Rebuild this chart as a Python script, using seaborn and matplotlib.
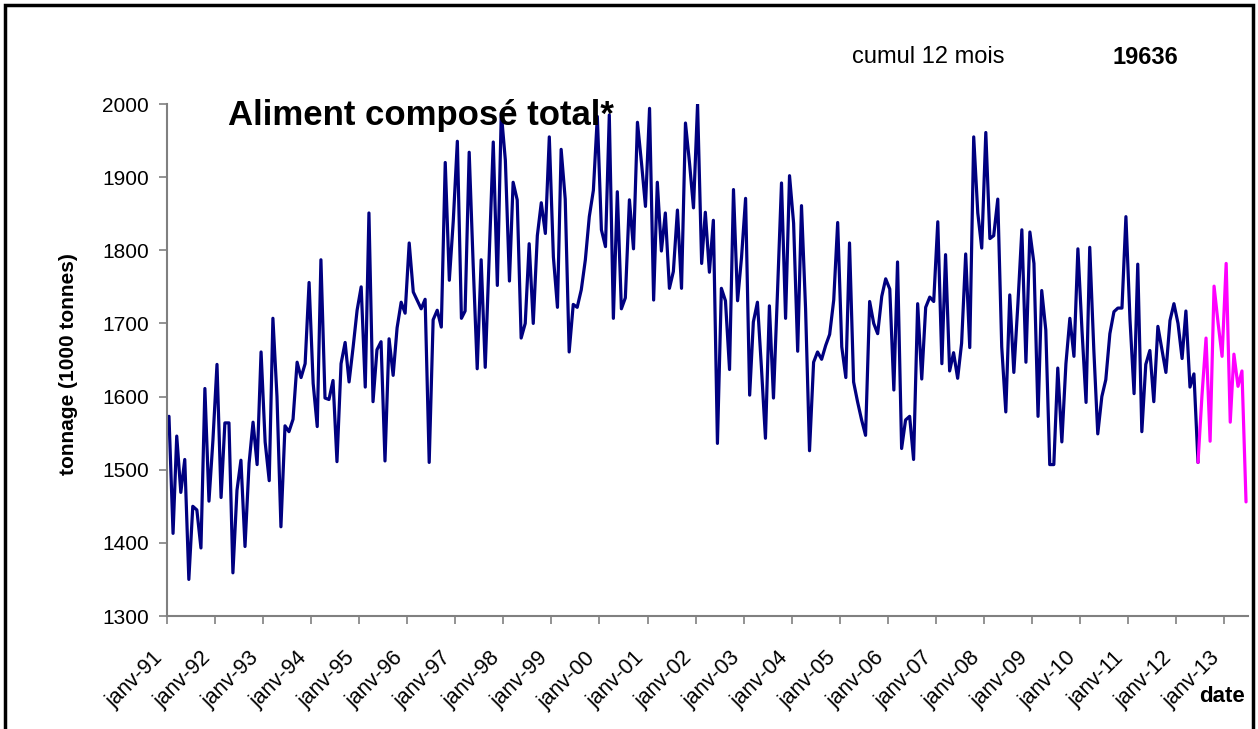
import numpy as np
import pandas as pd
import matplotlib
matplotlib.use("Agg")
import matplotlib.pyplot as plt
import matplotlib.transforms as mtransforms
from matplotlib.patches import Rectangle
import seaborn as sns

# -------------------------
# Data (monthly tonnage, 1000 t), janv-91 .. juin-13
# -------------------------
start_month = "1991-01-01"
tonnage = [
    1573, 1413, 1546, 1469, 1514, 1350, 1450, 1445, 1393, 1611, 1457, 1540,
    1644, 1462, 1564, 1564, 1359, 1472, 1513, 1395, 1509, 1565, 1507, 1661,
    1538, 1485, 1707, 1600, 1422, 1560, 1552, 1569, 1647, 1626, 1645, 1756,
    1618, 1559, 1787, 1598, 1596, 1622, 1511, 1645, 1674, 1620, 1668, 1718,
    1750, 1613, 1851, 1593, 1664, 1675, 1512, 1679, 1629, 1694, 1729, 1714,
    1810, 1743, 1732, 1720, 1733, 1510, 1705, 1718, 1695, 1920, 1759, 1840,
    1949, 1707, 1717, 1934, 1782, 1638, 1787, 1640, 1796, 1948, 1752, 1988,
    1923, 1758, 1893, 1869, 1680, 1700, 1809, 1700, 1820, 1865, 1823, 1955,
    1791, 1722, 1938, 1870, 1661, 1726, 1722, 1746, 1787, 1846, 1882, 1983,
    1828, 1805, 1985, 1707, 1880, 1720, 1735, 1869, 1802, 1975, 1919, 1860,
    1994, 1732, 1893, 1799, 1851, 1748, 1771, 1855, 1748, 1974, 1919, 1858,
    2000, 1782, 1852, 1770, 1841, 1536, 1748, 1731, 1637, 1883, 1731, 1790,
    1871, 1602, 1702, 1729, 1641, 1543, 1724, 1598, 1745, 1892, 1707, 1902,
    1837, 1662, 1861, 1720, 1526, 1647, 1661, 1651, 1670, 1685, 1732, 1838,
    1668, 1626, 1810, 1620, 1593, 1568, 1547, 1730, 1700, 1686, 1737, 1761,
    1747, 1609, 1784, 1529, 1568, 1573, 1514, 1727, 1624, 1722, 1736, 1730,
    1839, 1645, 1794, 1635, 1660, 1625, 1673, 1795, 1667, 1955, 1851, 1803,
    1961, 1816, 1820, 1870, 1668, 1579, 1739, 1633, 1727, 1828, 1647, 1825,
    1782, 1573, 1745, 1691, 1507, 1507, 1639, 1538, 1645, 1707, 1655, 1802,
    1691, 1592, 1804, 1664, 1549, 1600, 1623, 1686, 1716, 1721, 1721, 1846,
    1705, 1604, 1781, 1552, 1644, 1663, 1593, 1696, 1664, 1633, 1704, 1727,
    1700, 1652, 1717, 1613, 1631, 1510, 1601, 1680, 1539, 1751, 1700, 1655,
    1782, 1565, 1658, 1614, 1635, 1456,
]
n_last = 12  # last 12 months drawn in magenta
cumul_label = "cumul 12 mois"
cumul_value = "19636"

tick_labels = ["janv-91", "janv-92", "janv-93", "janv-94", "janv-95", "janv-96",
               "janv-97", "janv-98", "janv-99", "janv-00", "janv-01", "janv-02",
               "janv-03", "janv-04", "janv-05", "janv-06", "janv-07", "janv-08",
               "janv-09", "janv-10", "janv-11", "janv-12", "janv-13"]
y_ticks = [1300, 1400, 1500, 1600, 1700, 1800, 1900, 2000]

months = pd.date_range(start_month, periods=len(tonnage), freq="MS")
df = pd.DataFrame({"date": months + pd.Timedelta(days=15), "tonnage": tonnage})
hist = df.iloc[: len(df) - n_last]
last = df.iloc[len(df) - n_last - 1:]

# -------------------------
# Plot
# -------------------------
sns.set_style("white")
plt.rcParams["font.family"] = ["Liberation Sans", "DejaVu Sans"]
plt.rcParams["text.color"] = "black"
plt.rcParams["xtick.color"] = "black"
plt.rcParams["ytick.color"] = "black"

fig = plt.figure(figsize=(12.58, 7.29), dpi=100)
ax = fig.add_axes([167 / 1258, 1 - 616 / 729, (1248 - 167) / 1258, (616 - 104) / 729])

sns.lineplot(data=hist, x="date", y="tonnage", color="#000080", linewidth=2.3, ax=ax)
sns.lineplot(data=last, x="date", y="tonnage", color="#FF00FF", linewidth=2.3, ax=ax)

ax.set_ylim(1300, 2000)
ax.set_xlim(months[0], months[-1] + pd.DateOffset(months=1))
ax.set_yticks(y_ticks)
ax.set_yticklabels([str(v) for v in y_ticks], fontsize=15)
tick_dates = pd.date_range(start_month, periods=len(tick_labels), freq="YS")
ax.set_xticks(tick_dates)
ax.set_xticklabels(tick_labels, fontsize=15.5, rotation=45, ha="right",
                   va="center", rotation_mode="anchor")
ax.tick_params(axis="both", direction="out", length=6, width=1.2,
               bottom=True, left=True)
ax.tick_params(axis="both", which="major", color="#808080")
ax.tick_params(axis="x", pad=20)
ax.tick_params(axis="y", pad=7)
ax.set_xlabel("")
ax.set_ylabel("")
for s in ["top", "right"]:
    ax.spines[s].set_visible(False)
for s in ["left", "bottom"]:
    ax.spines[s].set_color("#808080")
    ax.spines[s].set_linewidth(1.5)

# nudge the rotated date labels left, like the original
shift = mtransforms.ScaledTranslation(-7 / 100, -3 / 100, fig.dpi_scale_trans)
for lbl in ax.get_xticklabels():
    lbl.set_transform(lbl.get_transform() + shift)

fig.text(228 / 1258, 1 - 116 / 729, "Aliment composé total*", fontsize=25,
         fontweight="bold", va="center", ha="left")
fig.text(852 / 1258, 1 - 57 / 729, cumul_label, fontsize=17, va="center", ha="left")
fig.text(1112 / 1258, 1 - 57 / 729, cumul_value, fontsize=17, fontweight="bold",
         va="center", ha="left")
fig.text(68 / 1258, 1 - 364 / 729, "tonnage (1000 tonnes)", fontsize=15,
         fontweight="bold", rotation=90, va="center", ha="center")
fig.text(1245 / 1258, 1 - 697 / 729, "date", fontsize=16, fontweight="bold",
         va="center", ha="right")

fig.patches.append(Rectangle((5 / 1258, -0.02), (1253 - 5) / 1258, 1.02 - 5 / 729,
                             transform=fig.transFigure, fill=False,
                             edgecolor="black", linewidth=2.5))

fig.savefig("out.png", dpi=100)
